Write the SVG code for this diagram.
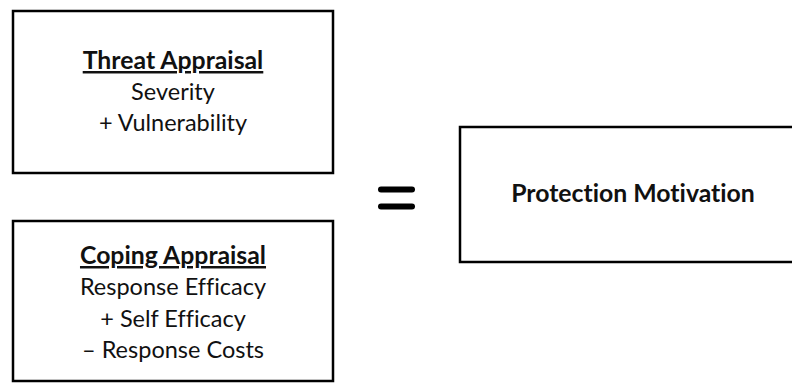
<svg xmlns="http://www.w3.org/2000/svg" width="792" height="383" viewBox="0 0 792 383">
<style>
.box{fill:#fff;stroke:#000;stroke-width:2.5}
.t{font-family:Lato,"Open Sans",sans-serif;font-size:23.5px;fill:#111;text-anchor:middle;font-variant-ligatures:none;font-feature-settings:"liga" 0}
.b{font-weight:bold;font-size:24.8px}
.u{text-decoration:underline}
</style>
<rect width="792" height="383" fill="#fff"/>
<g id="threat">
<rect class="box" x="13" y="11" width="320" height="162"/>
<text class="t b u" x="173" y="69">Threat Appraisal</text>
<text class="t" x="173" y="100">Severity</text>
<text class="t" x="173" y="131">+ Vulnerability</text>
</g>
<g id="coping">
<rect class="box" x="13" y="221" width="320" height="160"/>
<text class="t b u" x="173" y="264">Coping Appraisal</text>
<text class="t" x="173" y="295">Response Efficacy</text>
<text class="t" x="173" y="327">+ Self Efficacy</text>
<text class="t" x="173" y="358">– Response Costs</text>
</g>
<g id="equals">
<line x1="381" y1="189.5" x2="412" y2="189.5" stroke="#000" stroke-width="6" stroke-linecap="round"/>
<line x1="381" y1="206.5" x2="412" y2="206.5" stroke="#000" stroke-width="6" stroke-linecap="round"/>
</g>
<g id="protection">
<rect class="box" x="460" y="127" width="340" height="135"/>
<text class="t b" x="633" y="202">Protection Motivation</text>
</g>
<g id="connectors"></g>
</svg>
